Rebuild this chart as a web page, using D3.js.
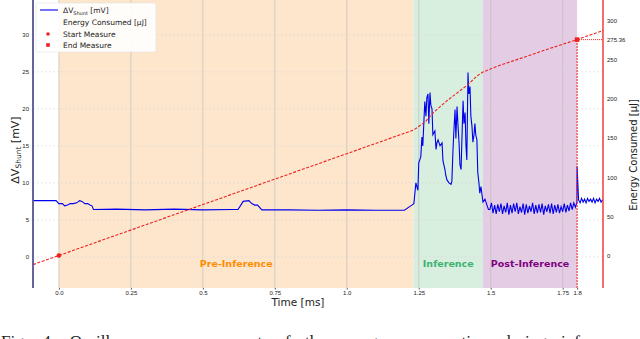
<!DOCTYPE html>
<html>
<head>
<meta charset="utf-8">
<script src="https://cdn.jsdelivr.net/npm/d3@7"></script>
<style>
  body { margin: 0; background: #fff; }
  svg { display: block; font-family: "DejaVu Sans", sans-serif; }
</style>
</head>
<body>
<svg width="640" height="339"></svg>
<script>
// phases of the run (ms)
const phaseNames = ["Pre-Inference", "Inference", "Post-Inference"]
const phaseStart = [0.0, 1.232, 1.473]
const phaseEnd = [1.232, 1.473, 1.8]

// shunt voltage, pre-inference (ms / mV)
const preTime = [-0.09, -0.01, 0.0, 0.012, 0.02, 0.03, 0.04, 0.05, 0.062, 0.072, 0.08, 0.09, 0.1, 0.108, 0.115, 0.12,
    0.2, 0.3, 0.4, 0.5, 0.6, 0.622, 0.632, 0.64, 0.66, 0.67, 0.68, 0.69, 0.705, 0.8, 0.9, 1.0, 1.1, 1.2, 1.226]
const preMv = [7.6, 7.6, 7.2, 7.2, 6.9, 7.0, 7.2, 7.2, 7.3, 7.6, 7.5, 7.2, 7.2, 7.0, 6.9, 6.4,
    6.45, 6.35, 6.45, 6.35, 6.4, 6.4, 7.0, 7.5, 7.6, 7.2, 7.0, 7.0, 6.35, 6.35, 6.3, 6.35, 6.3, 6.3, 7.0]

// shunt voltage, inference burst
const inferTime = [1.233, 1.240, 1.247, 1.250, 1.257, 1.261, 1.264, 1.271, 1.275, 1.278, 1.282, 1.285, 1.289, 1.292, 1.296,
    1.299, 1.306, 1.310, 1.313, 1.317, 1.324, 1.331, 1.334, 1.341, 1.344, 1.348, 1.355, 1.362, 1.365, 1.369, 1.372,
    1.376, 1.379, 1.383, 1.386, 1.390, 1.393, 1.397, 1.400, 1.404, 1.407, 1.411, 1.414, 1.417, 1.421, 1.424, 1.428,
    1.431, 1.435, 1.438, 1.442, 1.445, 1.448, 1.452, 1.455, 1.459, 1.462, 1.466, 1.473, 1.480, 1.487, 1.492]
const inferMv = [7.2, 10.0, 9.0, 12.7, 13.5, 16.2, 15.0, 21.0, 19.0, 21.5, 22.0, 18.0, 22.2, 20.5, 20.0,
    16.5, 17.0, 14.5, 15.4, 15.8, 15.0, 15.4, 13.0, 11.8, 11.0, 10.4, 10.0, 9.8, 10.2, 14.5, 17.0,
    19.9, 16.0, 20.3, 18.0, 15.4, 12.5, 11.8, 16.0, 21.1, 18.0, 19.5, 15.0, 13.1, 24.9, 22.0, 23.0,
    19.0, 17.6, 15.5, 16.5, 18.0, 16.5, 15.8, 11.4, 10.0, 8.6, 9.5, 7.4, 7.8, 7.0, 6.4]

// shunt voltage, post-inference (noisy), sampled every 0.0055 ms from 1.497
const postMv = [6.4, 7.3, 5.9, 7.0, 5.8, 7.1, 6.1, 7.2, 5.8, 6.9, 6.0, 7.3, 5.7, 7.0, 5.9, 7.2, 6.1, 7.3, 5.8, 6.8,
    6.0, 7.2, 5.7, 7.1, 5.9, 6.9, 6.1, 7.3, 5.8, 7.0, 5.9, 7.1, 6.0, 7.2, 5.7, 6.9, 6.1, 7.1, 5.9, 7.2,
    5.8, 7.0, 6.0, 7.1, 5.9, 6.8, 6.1, 7.2, 6.0, 7.0, 6.2, 7.3, 6.4, 7.3, 6.7, 7.4]
// after end of measure
const tailMv = [12.2, 7.7, 7.3, 7.9, 7.4, 7.8, 7.3, 7.9, 7.5, 7.8, 7.4, 7.9, 7.3, 7.8, 7.5, 7.9, 7.4, 7.7]

// cumulative energy (ms / uJ)
const energyTime = [-0.09, 0.0, 1.232, 1.271, 1.30, 1.35, 1.40, 1.421, 1.452, 1.473, 1.52, 1.6, 1.7, 1.8, 1.89]
const energyUj = [-11.7, 0, 160, 170, 182, 198, 212, 218, 229, 234, 241, 251, 263.5, 275.36, 287]

const xTicks = [0.0, 0.25, 0.5, 0.75, 1.0, 1.25, 1.5, 1.75, 1.8]
const xTickLabels = ["0.0", "0.25", "0.5", "0.75", "1.0", "1.25", "1.5", "1.75", "1.8"]
const leftTicks = [0, 5, 10, 15, 20, 25, 30]
const rightTicks = [0, 50, 100, 150, 200, 250, 300, 275.36]

const phaseFill = ["#fde6cb", "#d8eedf", "#e3cce4"]
const phaseText = ["#ff8c00", "#3cb371", "#800080"]

const svg = d3.select("svg")

let x = d3.scaleLinear().domain([-0.09, 1.89]).range([33, 603])
let yL = d3.scaleLinear().domain([-4.2, 34.7]).range([288, 0])
let yR = d3.scaleLinear().domain([-41.5, 325.9]).range([288, 0])

// build shunt series
let shunt = []
preTime.forEach((t, i) => shunt.push([t, preMv[i]]))
inferTime.forEach((t, i) => shunt.push([t, inferMv[i]]))
postMv.forEach((v, i) => shunt.push([1.497 + i * 0.0055, v]))
tailMv.forEach((v, i) => shunt.push([1.8 + i * 0.0052, v]))
let energy = energyTime.map((t, i) => [t, energyUj[i]])

// phase bands
svg.append("g")
    .selectAll("rect")
    .data(phaseNames)
    .enter()
    .append("rect")
    .attr("x", (d, i) => x(phaseStart[i]))
    .attr("y", 0)
    .attr("width", (d, i) => x(phaseEnd[i]) - x(phaseStart[i]))
    .attr("height", 288)
    .style("fill", (d, i) => phaseFill[i])

// grid
svg.append("g")
    .selectAll("line")
    .data(xTicks.slice(0, 8))
    .enter()
    .append("line")
    .attr("x1", d => x(d)).attr("x2", d => x(d))
    .attr("y1", 0).attr("y2", 288)
    .style("stroke", "#bdbdbd")
    .style("stroke-width", 0.8)
    .style("opacity", 0.8)

svg.append("g")
    .selectAll("line")
    .data(leftTicks)
    .enter()
    .append("line")
    .attr("x1", 33).attr("x2", 603)
    .attr("y1", d => yL(d)).attr("y2", d => yL(d))
    .style("stroke", "#d8d8d8")
    .style("stroke-width", 0.6)
    .style("stroke-dasharray", "2,2")

// phase labels
svg.append("g")
    .selectAll("text")
    .data(phaseNames)
    .enter()
    .append("text")
    .attr("x", (d, i) => (x(phaseStart[i]) + x(phaseEnd[i])) / 2)
    .attr("y", 267)
    .attr("text-anchor", "middle")
    .style("font-size", "9.5px")
    .style("font-weight", "bold")
    .style("fill", (d, i) => phaseText[i])
    .text(d => d)

// shunt voltage line
svg.append("path")
    .datum(shunt)
    .attr("d", d3.line().x(d => x(d[0])).y(d => yL(d[1])))
    .style("fill", "none")
    .style("stroke", "#0000ee")
    .style("stroke-width", 1.1)

// energy line
svg.append("path")
    .datum(energy)
    .attr("d", d3.line().x(d => x(d[0])).y(d => yR(d[1])))
    .style("fill", "none")
    .style("stroke", "#ee2020")
    .style("stroke-width", 1.1)
    .style("stroke-dasharray", "3,1.6")

// end of measure guides
svg.append("line")
    .attr("x1", x(1.8)).attr("x2", x(1.8))
    .attr("y1", 288).attr("y2", yR(275.36))
    .style("stroke", "#ee2020")
    .style("stroke-width", 1)
    .style("stroke-dasharray", "2,1")
svg.append("line")
    .attr("x1", x(1.8)).attr("x2", 603)
    .attr("y1", yR(275.36)).attr("y2", yR(275.36))
    .style("stroke", "#ee2020")
    .style("stroke-width", 1)
    .style("stroke-dasharray", "1,1")

// start / end markers
svg.append("circle")
    .attr("cx", x(0)).attr("cy", yR(0)).attr("r", 2.3)
    .style("fill", "#ee2020")
svg.append("rect")
    .attr("x", x(1.8) - 2.3).attr("y", yR(275.36) - 2.3)
    .attr("width", 4.6).attr("height", 4.6)
    .style("fill", "#ee2020")

// axes
let xAxis = svg.append("g")
    .attr("transform", "translate(0,288)")
    .call(d3.axisBottom(x).tickValues(xTicks).tickFormat((d, i) => xTickLabels[i]).tickSize(1.5).tickPadding(1))
xAxis.select(".domain").remove()
xAxis.selectAll("text").style("font-size", "6px").style("fill", "#222")
xAxis.selectAll("line").style("stroke", "#555")

let leftAxis = svg.append("g")
    .attr("transform", "translate(33,0)")
    .call(d3.axisLeft(yL).tickValues(leftTicks).tickSize(0).tickPadding(4))
leftAxis.select(".domain").remove()
leftAxis.selectAll("text").style("font-size", "6px").style("fill", "#222")

let rightAxis = svg.append("g")
    .attr("transform", "translate(603,0)")
    .call(d3.axisRight(yR).tickValues(rightTicks).tickFormat(d => d === 275.36 ? "275.36" : d).tickSize(0).tickPadding(4))
rightAxis.select(".domain").remove()
rightAxis.selectAll("text").style("font-size", "6px").style("fill", "#222")

// spines
svg.append("line")
    .attr("x1", 33).attr("x2", 33).attr("y1", 0).attr("y2", 288)
    .style("stroke", "#55558f")
    .style("stroke-width", 1.8)
svg.append("line")
    .attr("x1", 603).attr("x2", 603).attr("y1", 0).attr("y2", 288)
    .style("stroke", "#ee2020")
    .style("stroke-width", 1.3)

// axis titles
svg.append("text")
    .attr("x", 298).attr("y", 306)
    .attr("text-anchor", "middle")
    .style("font-size", "10.5px")
    .style("fill", "#222")
    .text("Time [ms]")

let yTitle = svg.append("text")
    .attr("transform", "translate(19,150) rotate(-90)")
    .attr("text-anchor", "middle")
    .style("font-size", "11px")
    .style("fill", "#222")
yTitle.append("tspan").text("ΔV")
yTitle.append("tspan").attr("dy", 2).style("font-size", "7.5px").text("Shunt")
yTitle.append("tspan").attr("dy", -2).text(" [mV]")

svg.append("text")
    .attr("transform", "translate(637,155) rotate(-90)")
    .attr("text-anchor", "middle")
    .style("font-size", "10px")
    .style("fill", "#222")
    .text("Energy Consumed [µJ]")

// legend
let legend = svg.append("g")
legend.append("rect")
    .attr("x", 36).attr("y", 3).attr("width", 120).attr("height", 49).attr("rx", 2)
    .style("fill", "#fff").style("fill-opacity", 0.9)
    .style("stroke", "#e2e2e2").style("stroke-width", 0.6)
legend.append("line")
    .attr("x1", 40).attr("x2", 58).attr("y1", 10).attr("y2", 10)
    .style("stroke", "#0000ee").style("stroke-width", 1.1)
let lt = legend.append("text").attr("x", 63).attr("y", 13).style("font-size", "7.5px").style("fill", "#222")
lt.append("tspan").text("ΔV")
lt.append("tspan").attr("dy", 1.5).style("font-size", "5px").text("Shunt")
lt.append("tspan").attr("dy", -1.5).text(" [mV]")
legend.append("text").attr("x", 63).attr("y", 25).style("font-size", "7.5px").style("fill", "#222")
    .text("Energy Consumed [µJ]")
legend.append("circle").attr("cx", 48).attr("cy", 34).attr("r", 1.8).style("fill", "#ee2020")
legend.append("text").attr("x", 63).attr("y", 37).style("font-size", "7.5px").style("fill", "#222")
    .text("Start Measure")
legend.append("rect").attr("x", 46.2).attr("y", 43.2).attr("width", 3.6).attr("height", 3.6).style("fill", "#ee2020")
legend.append("text").attr("x", 63).attr("y", 48).style("font-size", "7.5px").style("fill", "#222")
    .text("End Measure")

// caption (cut off by the frame, only the tops show)
svg.append("text")
    .attr("x", 1).attr("y", 347)
    .style("font-family", "'Liberation Serif', 'DejaVu Serif', serif")
    .style("font-size", "17px")
    .style("word-spacing", "10px")
    .style("fill", "#222")
    .text("Fig. 4: Oscilloscope measurement of the energy consumption during inference")
</script>
</body>
</html>
